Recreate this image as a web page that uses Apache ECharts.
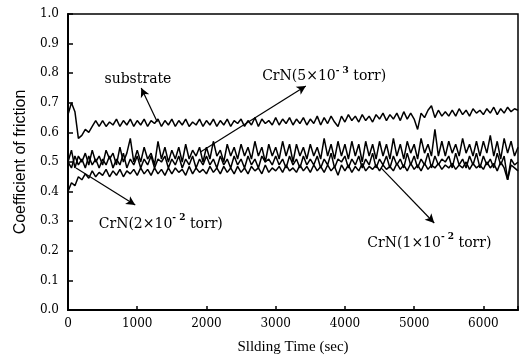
<!DOCTYPE html>
<html><head><meta charset="utf-8">
<script src="https://cdn.jsdelivr.net/npm/echarts@6/dist/echarts.min.js"></script>
<style>html,body{margin:0;padding:0;background:#fff}#c{width:523px;height:361px}</style>
</head><body><div id="c"></div>
<script>
// Time axis: one sample every 50 s, 0..6500 s
const timeStep = 50;
const xTicks = [0,1000,2000,3000,4000,5000,6000];
const yTicks = [0.0,0.1,0.2,0.3,0.4,0.5,0.6,0.7,0.8,0.9,1.0];

const substrate = [
 0.66,0.70,0.67,0.58,0.59,0.61,0.60,0.62,0.64,0.62,
 0.64,0.62,0.635,0.625,0.645,0.62,0.64,0.625,0.645,0.62,
 0.64,0.625,0.645,0.62,0.64,0.63,0.645,0.62,0.64,0.625,
 0.645,0.62,0.64,0.625,0.645,0.62,0.635,0.625,0.645,0.62,
 0.64,0.625,0.645,0.62,0.64,0.625,0.645,0.62,0.64,0.63,
 0.645,0.62,0.64,0.625,0.65,0.62,0.645,0.63,0.64,0.625,
 0.65,0.625,0.645,0.63,0.65,0.625,0.645,0.63,0.65,0.625,
 0.645,0.63,0.655,0.625,0.65,0.63,0.655,0.635,0.62,0.655,
 0.635,0.66,0.64,0.655,0.635,0.66,0.64,0.655,0.635,0.66,
 0.645,0.665,0.64,0.66,0.645,0.665,0.64,0.67,0.645,0.665,
 0.645,0.61,0.665,0.65,0.675,0.69,0.65,0.675,0.655,0.67,
 0.655,0.675,0.655,0.68,0.66,0.675,0.655,0.68,0.665,0.675,
 0.66,0.68,0.665,0.685,0.66,0.68,0.665,0.685,0.67,0.68,
 0.675];

const crn5e3 = [
 0.50,0.54,0.48,0.52,0.50,0.53,0.49,0.54,0.50,0.52,
 0.49,0.54,0.51,0.53,0.49,0.55,0.50,0.53,0.58,0.50,
 0.54,0.50,0.55,0.51,0.53,0.49,0.57,0.51,0.55,0.50,
 0.54,0.51,0.55,0.50,0.56,0.51,0.54,0.52,0.55,0.50,
 0.55,0.51,0.57,0.52,0.54,0.50,0.56,0.52,0.55,0.51,
 0.56,0.52,0.55,0.51,0.57,0.52,0.55,0.50,0.56,0.52,
 0.55,0.51,0.57,0.52,0.56,0.50,0.56,0.52,0.55,0.51,
 0.56,0.52,0.55,0.51,0.58,0.52,0.56,0.51,0.57,0.52,
 0.56,0.51,0.57,0.52,0.56,0.50,0.57,0.52,0.56,0.51,
 0.57,0.52,0.56,0.51,0.58,0.52,0.56,0.51,0.57,0.53,
 0.56,0.51,0.58,0.53,0.56,0.52,0.61,0.52,0.57,0.52,
 0.57,0.53,0.56,0.52,0.58,0.53,0.56,0.52,0.57,0.52,
 0.57,0.53,0.59,0.52,0.57,0.51,0.58,0.53,0.57,0.52,
 0.55];

const crn1e2 = [
 0.50,0.48,0.52,0.49,0.51,0.48,0.52,0.49,0.51,0.48,
 0.51,0.49,0.52,0.48,0.51,0.49,0.53,0.48,0.51,0.49,
 0.52,0.48,0.51,0.49,0.52,0.48,0.51,0.50,0.52,0.48,
 0.51,0.49,0.52,0.48,0.51,0.49,0.52,0.48,0.51,0.49,
 0.52,0.49,0.51,0.48,0.52,0.49,0.51,0.48,0.52,0.49,
 0.51,0.48,0.52,0.49,0.51,0.48,0.52,0.50,0.51,0.49,
 0.52,0.49,0.51,0.48,0.52,0.49,0.51,0.48,0.52,0.49,
 0.51,0.49,0.52,0.48,0.51,0.49,0.53,0.48,0.51,0.50,
 0.52,0.48,0.51,0.49,0.52,0.48,0.51,0.49,0.53,0.48,
 0.51,0.49,0.52,0.48,0.52,0.49,0.51,0.48,0.53,0.49,
 0.52,0.48,0.51,0.49,0.53,0.48,0.52,0.49,0.51,0.50,
 0.52,0.48,0.53,0.49,0.51,0.48,0.52,0.49,0.53,0.48,
 0.52,0.49,0.51,0.48,0.53,0.49,0.52,0.44,0.51,0.49,
 0.50];

const crn2e2 = [
 0.40,0.43,0.42,0.45,0.44,0.46,0.445,0.47,0.45,0.465,
 0.455,0.475,0.45,0.47,0.455,0.475,0.45,0.47,0.46,0.475,
 0.455,0.48,0.46,0.475,0.455,0.48,0.46,0.475,0.455,0.48,
 0.46,0.48,0.465,0.475,0.455,0.485,0.46,0.48,0.465,0.475,
 0.46,0.485,0.465,0.48,0.46,0.485,0.465,0.48,0.46,0.485,
 0.465,0.48,0.46,0.485,0.47,0.48,0.46,0.49,0.465,0.48,
 0.47,0.485,0.465,0.49,0.47,0.48,0.465,0.49,0.47,0.485,
 0.465,0.49,0.47,0.485,0.465,0.49,0.47,0.485,0.455,0.49,
 0.47,0.49,0.465,0.485,0.47,0.495,0.47,0.485,0.475,0.49,
 0.47,0.49,0.475,0.485,0.47,0.495,0.475,0.49,0.47,0.495,
 0.475,0.49,0.47,0.495,0.475,0.49,0.48,0.495,0.475,0.49,
 0.48,0.495,0.475,0.49,0.48,0.50,0.475,0.495,0.48,0.49,
 0.475,0.50,0.48,0.495,0.47,0.50,0.48,0.44,0.49,0.48,
 0.47];

// Annotations (data coordinates): label position and arrow start/end
const labels = [
 {text:'{a|substrate}', at:[1010,0.785]},
 {text:'{a|CrN(5×10}{s|- 3}{a| torr)}', at:[3700,0.795]},
 {text:'{a|CrN(2×10}{s|- 2}{a| torr)}', at:[1340,0.297]},
 {text:'{a|CrN(1×10}{s|- 2}{a| torr)}', at:[5220,0.232]}
];
const arrows = [
 [[1290,0.635],[1058,0.75]],
 [[1913,0.534],[3435,0.757]],
 [[116,0.48],[971,0.355]],
 [[4522,0.48],[5290,0.294]]
];

function pairs(arr){ return arr.map((v,i)=>[i*timeStep, v]); }

const chart = echarts.init(document.getElementById('c'), null, {renderer:'canvas'});
const serif = 'DejaVu Serif';
const lineSeries = [substrate, crn5e3, crn1e2, crn2e2].map((d, k) => ({
  type:'line', data:pairs(d), showSymbol:false, symbol:'none',
  lineStyle:{color:'#000', width:1.5}, animation:false, silent:true,
  markLine: {
    silent:true, animation:false, symbol:['none','arrow'], symbolSize:[7,9],
    lineStyle:{color:'#000', width:1.2, type:'solid'}, label:{show:false},
    data:[[{coord:arrows[k][0]},{coord:arrows[k][1]}]]
  },
  markPoint: {
    silent:true, animation:false, symbol:'circle', symbolSize:0,
    label:{show:true, position:'inside', formatter:labels[k].text,
      rich:{
        a:{fontFamily:serif, fontSize:14, color:'#000', lineHeight:18, verticalAlign:'bottom'},
        s:{fontFamily:serif, fontSize:9, fontWeight:'bold', color:'#000', lineHeight:18, verticalAlign:'top'}
      }},
    data:[{coord:labels[k].at}]
  }
}));

chart.setOption({
  animation:false,
  backgroundColor:'#fff',
  grid:{left:68, right:5, top:14, bottom:51, show:true, borderColor:'#000', borderWidth:1.5, backgroundColor:'transparent'},
  xAxis:{
    type:'value', min:0, max:6500, interval:1000,
    name:'Sllding Time (sec)', nameLocation:'middle', nameGap:30,
    nameTextStyle:{fontFamily:'Liberation Serif', fontSize:15, color:'#000'},
    axisLine:{lineStyle:{color:'#000', width:2}},
    axisTick:{inside:true, length:4, lineStyle:{color:'#000', width:1.5}},
    axisLabel:{fontFamily:serif, fontSize:12, color:'#000', margin:8,
      formatter: v => xTicks.indexOf(v) >= 0 ? String(v) : ''},
    splitLine:{show:false}
  },
  yAxis:{
    type:'value', min:0, max:1, interval:0.1,
    name:'Coefficient of friction', nameLocation:'middle', nameGap:37, nameRotate:90,
    nameTextStyle:{fontFamily:'Liberation Sans', fontSize:16, color:'#000'},
    axisLine:{lineStyle:{color:'#000', width:2}},
    axisTick:{inside:true, length:5, lineStyle:{color:'#000', width:1.5}},
    axisLabel:{fontFamily:serif, fontSize:12, color:'#000', margin:9,
      formatter: v => { const t = yTicks.find(y => Math.abs(y - v) < 1e-9); return t === undefined ? '' : t.toFixed(1); }},
    splitLine:{show:false}
  },
  series: lineSeries
});
</script></body></html>
